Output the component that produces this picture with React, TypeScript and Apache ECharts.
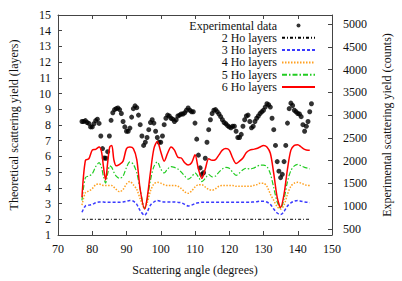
import React, { useEffect, useRef } from "react";
import * as echarts from "echarts";

// Scattering angle (degrees) at which the theoretical curves are read
const thAngles = [
  77, 78, 79, 80, 81, 82, 82.7, 83.3, 83.9, 84.5, 85.1, 85.7, 86.3, 87, 88, 89, 90, 91, 92, 93, 94,
  95.3, 96, 97, 98, 99, 100, 101, 102, 103, 104, 105, 106, 107, 108, 109, 110, 111, 112, 113, 114,
  115, 116, 117, 118, 119, 120, 121, 122, 123, 124, 125, 126, 127, 128, 129, 130, 131, 132, 133,
  134, 135, 136, 137, 138, 139, 140, 141, 142, 143, 143.5,
];

// Theoretical scattering yield (layers)
const ho2Angles = [77, 143.5];
const ho2 = [2, 2];

const ho3 = [
  2.45, 2.85, 2.9, 2.95, 3.05, 3.1, 3.1, 3.1, 3.08, 3.08, 3.08, 3.08, 3.08, 3.08, 3.08, 3.1, 3.15, 3.2, 3.15, 2.95, 2.55,
  2.25, 2.45, 2.9, 3.1, 3.2, 3.15, 3.1, 3.1, 3.1, 3.1, 3.08, 3.05, 2.95, 2.85, 2.9, 3.0, 3.05, 3.08, 3.08, 3.08,
  3.08, 3.08, 3.08, 3.08, 3.08, 3.08, 3.08, 3.08, 3.08, 3.08, 3.08, 3.08, 3.1, 3.12, 3.15, 3.15, 3.1, 2.95, 2.65,
  2.4, 2.3, 2.5, 2.85, 3.05, 3.15, 3.2, 3.15, 3.1, 3.08, 3.05,
];

const ho4 = [
  2.9, 3.7, 3.8, 3.95, 4.2, 4.25, 4.2, 4.15, 4.15, 4.15, 4.15, 4.15, 4.05, 3.9, 3.75, 3.9, 4.25, 4.4, 4.2, 3.9, 3.3,
  2.7, 3.0, 3.8, 4.25, 4.35, 4.3, 4.2, 4.15, 4.15, 4.15, 4.1, 3.95, 3.75, 3.65, 3.8, 4.05, 4.2, 4.2, 4.05, 3.9,
  3.85, 3.95, 4.1, 4.15, 4.15, 4.15, 4.15, 4.1, 4.1, 4.1, 4.1, 4.1, 4.15, 4.2, 4.3, 4.3, 4.1, 3.6, 3.2,
  2.8, 2.65, 2.9, 3.6, 4.1, 4.3, 4.35, 4.3, 4.2, 4.15, 4.15,
];

const ho5 = [
  3.2, 4.65, 4.75, 4.9, 5.35, 5.6, 5.3, 4.7, 4.3, 4.9, 5.4, 5.3, 5.0, 4.75, 4.6, 4.75, 5.3, 5.65, 5.5, 4.95, 3.9,
  2.7, 3.2, 4.5, 5.35, 5.65, 5.2, 4.95, 5.2, 5.35, 5.3, 5.2, 5.0, 4.75, 4.55, 4.7, 4.95, 4.7, 4.4, 4.6, 4.85,
  4.7, 4.75, 5.0, 5.2, 5.3, 5.25, 5.0, 4.8, 4.95, 5.15, 5.25, 5.2, 5.25, 5.35, 5.45, 5.45, 5.35, 4.9, 4.0,
  3.1, 2.7, 3.3, 4.4, 5.1, 5.4, 5.5, 5.4, 5.3, 5.25, 5.2,
];

const ho6 = [
  3.4, 5.75, 5.85, 6.4, 6.45, 6.6, 6.3, 5.3, 4.5, 5.6, 6.6, 6.7, 5.8, 5.4, 5.5, 5.7, 6.5, 6.6, 6.5, 5.8, 3.9,
  2.65, 3.3, 5.0, 6.5, 6.95, 6.3, 5.7, 6.2, 6.6, 6.4, 5.95, 5.9, 5.6, 5.45, 5.6, 6.1, 5.2, 4.6, 5.2, 5.85,
  5.75, 5.8, 6.1, 6.4, 6.5, 6.4, 5.9, 5.55, 5.7, 5.9, 6.25, 6.4, 6.45, 6.5, 6.6, 6.7, 6.6, 6.2, 4.9,
  3.4, 2.75, 3.6, 5.2, 6.4, 6.7, 6.75, 6.6, 6.45, 6.4, 6.4,
];

// Experimental scattering yield (counts)
const expAngles = [
  77, 77.5, 78, 78.5, 79, 79.5, 80, 80.5, 81, 81.5, 82, 82.5, 83, 83.5, 84, 84.5, 85, 85.5, 86, 86.5,
  87, 87.5, 88, 88.5, 89, 89.5, 90, 90.5, 91, 91.5, 92, 92.5, 93, 93.5, 94, 94.5, 95, 95.5, 96, 96.5,
  97, 97.5, 98, 98.5, 99, 99.5, 100, 100.5, 101, 101.5, 102, 102.5, 103, 103.5, 104, 104.5, 105, 105.5,
  106, 106.5, 107, 107.5, 108, 108.5, 109, 109.5, 110, 110.5, 111, 111.5, 112, 112.5, 113, 113.5, 114,
  114.5, 115, 115.5, 116, 116.5, 117, 117.5, 118, 118.5, 119, 119.5, 120, 120.5, 121, 121.5, 122, 122.5,
  123, 123.5, 124, 124.5, 125, 125.5, 126, 126.5, 127, 127.5, 128, 128.5, 129, 129.5, 130, 130.5, 131,
  131.5, 132, 132.5, 133, 133.5, 134, 134.5, 135, 135.5, 136, 136.5, 137, 137.5, 138, 138.5, 139, 139.5,
  140, 140.5, 141, 141.5, 142, 142.5, 143, 143.5, 144,
];
const expCounts = [
  2859, 2859, 2880, 2838, 2817, 2741, 2741, 2810, 2880, 2911, 2817, 2541, 2265, 2057, 2051, 2196, 2541, 2886, 3052, 3121,
  3142, 3156, 3121, 3035, 2859, 2741, 2645, 2645, 2714, 2956, 3142, 3204, 3163, 3000, 2790, 2541, 2334, 2403, 2507, 2679,
  2838, 2897, 2824, 2645, 2507, 2403, 2403, 2541, 2790, 2931, 3000, 2980, 2931, 2911, 2859, 2897, 2980, 3000,
  3025, 3025, 3052, 3107, 3156, 3107, 3073, 3073, 2824, 2472, 2120, 1840, 1698, 1733, 2051, 2403, 2679,
  2897, 3035, 3107, 3121, 3073, 3025, 2966, 2897, 2838, 2810, 2769, 2741, 2721, 2755, 2755, 2645, 2507,
  2507, 2576, 2755, 2897, 2980, 3000, 2859, 2721, 2755, 2859, 2931, 2980, 3035, 3073, 3107, 3177, 3249,
  3228, 3177, 2931, 2679, 2334, 1978, 1767, 1626, 1698, 1978, 2334, 2824, 3142, 3263, 3211, 3107, 3073,
  3035, 3025, 2966, 2790, 2645, 2755, 2859, 3073, 3249,
];

const rightTicks = [500, 1000, 1500, 2000, 2500, 3000, 3500, 4000, 4500, 5000];

const seriesNames = ["Experimental data", "2 Ho layers", "3 Ho layers", "4 Ho layers", "5 Ho layers", "6 Ho layers"];

export default function App() {
  const ref = useRef<HTMLDivElement>(null);

  useEffect(() => {
    if (!ref.current) return;
    const chart = echarts.init(ref.current, null, { renderer: "svg" });
    const font = "'Liberation Serif', 'Times New Roman', serif";
    const pair = (xs: number[], ys: number[]) => xs.map((x, i) => [x, ys[i]]);
    const frame = { color: "#444", width: 1 };
    const label = { fontFamily: font, fontSize: 12, color: "#111" };
    const lineSeries = (name: string, xs: number[], ys: number[], color: string, width: number, type: any) => ({
      name,
      type: "line",
      xAxisIndex: 0,
      yAxisIndex: 0,
      data: pair(xs, ys),
      symbol: "none",
      smooth: 0.3,
      lineStyle: { color, width, type },
      itemStyle: { color },
    });
    const hiddenMarker = { opacity: 0 };

    chart.setOption({
      animation: false,
      backgroundColor: "#ffffff",
      grid: { left: 55, right: 70, top: 15, bottom: 38 },
      legend: {
        orient: "vertical",
        align: "right",
        right: 86,
        top: 19.5,
        padding: 0,
        itemWidth: 33,
        itemHeight: 12,
        itemGap: 0.3,
        selectedMode: false,
        textStyle: { fontFamily: font, fontSize: 12, lineHeight: 12, color: "#111" },
        data: [
          { name: seriesNames[0], icon: "path://M0,0M33,12M14.5,6a2,2 0 1,0 4,0a2,2 0 1,0 -4,0z" },
          { name: seriesNames[1], itemStyle: hiddenMarker },
          { name: seriesNames[2], itemStyle: hiddenMarker },
          { name: seriesNames[3], itemStyle: hiddenMarker },
          { name: seriesNames[4], itemStyle: hiddenMarker },
          { name: seriesNames[5], itemStyle: hiddenMarker },
        ],
      },
      xAxis: [
        {
          type: "value",
          min: 70,
          max: 150,
          interval: 10,
          position: "bottom",
          axisLine: { lineStyle: frame },
          axisTick: { inside: true, length: 4, lineStyle: frame },
          axisLabel: { ...label, margin: 8 },
          splitLine: { show: false },
          name: "Scattering angle (degrees)",
          nameLocation: "middle",
          nameGap: 29,
          nameTextStyle: label,
        },
        {
          type: "value",
          min: 70,
          max: 150,
          interval: 10,
          position: "top",
          axisLine: { lineStyle: frame },
          axisTick: { inside: true, length: 4, lineStyle: frame },
          axisLabel: { show: false },
          splitLine: { show: false },
        },
      ],
      yAxis: [
        {
          type: "value",
          min: 1,
          max: 15,
          interval: 1,
          position: "left",
          axisLine: { show: true, onZero: false, lineStyle: frame },
          axisTick: { inside: true, length: 4, lineStyle: frame },
          axisLabel: { ...label, margin: 7 },
          splitLine: { show: false },
          name: "Theoretical scattering yield (layers)",
          nameLocation: "middle",
          nameRotate: 90,
          nameGap: 38,
          nameTextStyle: label,
        },
        {
          type: "value",
          min: 365,
          max: 5200,
          position: "right",
          axisLine: { show: true, onZero: false, lineStyle: frame },
          axisTick: { inside: true, length: 4, lineStyle: frame, customValues: rightTicks },
          axisLabel: {
            ...label,
            margin: 11,
            customValues: rightTicks,
            formatter: (v: number) => String(v),
          },
          splitLine: { show: false },
          name: "Experimental scattering yield (counts)",
          nameLocation: "middle",
          nameRotate: 90,
          nameGap: 49,
          nameTextStyle: label,
        },
      ],
      series: [
        {
          name: seriesNames[0],
          type: "scatter",
          xAxisIndex: 0,
          yAxisIndex: 1,
          data: pair(expAngles, expCounts),
          symbol: "circle",
          symbolSize: 5,
          itemStyle: { color: "#000" },
        },
        lineSeries(seriesNames[1], ho2Angles, ho2, "#000000", 1, [3, 2, 1, 2]),
        lineSeries(seriesNames[2], thAngles, ho3, "#3a3aff", 1.5, [3, 2]),
        lineSeries(seriesNames[3], thAngles, ho4, "#ffa020", 1.5, [1.5, 1.5]),
        lineSeries(seriesNames[4], thAngles, ho5, "#22cc22", 1.2, [5, 2, 1.5, 2]),
        lineSeries(seriesNames[5], thAngles, ho6, "#ff0000", 1.5, "solid"),
      ],
    });
    return () => chart.dispose();
  }, []);

  return <div ref={ref} style={{ position: "fixed", left: 0, top: 0, width: 402, height: 281 }} />;
}
